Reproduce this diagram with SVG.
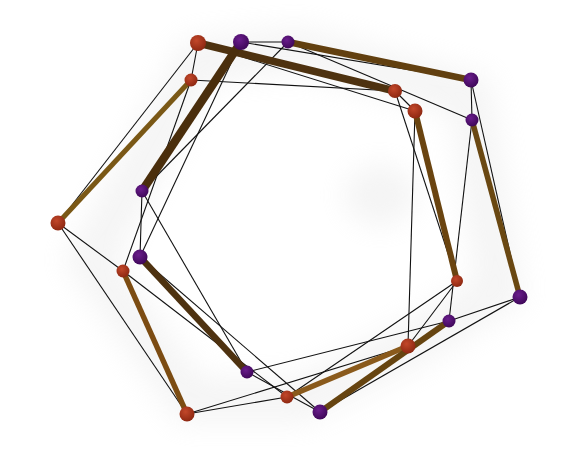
<svg xmlns="http://www.w3.org/2000/svg" width="577" height="463" viewBox="0 0 577 463">
<defs>
<radialGradient id="gr" cx="0.4" cy="0.35" r="0.7">
<stop offset="0" stop-color="#c2472a"/>
<stop offset="1" stop-color="#8a2610"/>
</radialGradient>
<radialGradient id="gp" cx="0.4" cy="0.35" r="0.7">
<stop offset="0" stop-color="#6a1d8c"/>
<stop offset="1" stop-color="#3c0656"/>
</radialGradient>
<filter id="blur" x="-20%" y="-20%" width="140%" height="140%">
<feGaussianBlur stdDeviation="14"/>
</filter>
</defs>
<style>
.thin{stroke:#111;stroke-width:1.1;fill:none}
.thick{stroke-linecap:butt;fill:none}
.red{fill:url(#gr)}
.pur{fill:url(#gp)}
</style>
<rect width="577" height="463" fill="#ffffff"/>
<g id="shadow" filter="url(#blur)" opacity="0.4">
<path d="M198,60 L300,50 L470,95 L500,290 L420,340 L300,400 L190,400 L90,260 L150,150 Z" fill="none" stroke="#e6e6e6" stroke-width="45"/>
<ellipse cx="380" cy="195" rx="35" ry="30" fill="#e4e4e4"/>
</g>
<g id="connectors">
<line class="thin" x1="198" y1="43" x2="191" y2="80"/>
<line class="thin" x1="198" y1="43" x2="58" y2="223"/>
<line class="thin" x1="198" y1="43" x2="415" y2="111"/>
<line class="thin" x1="191" y1="80" x2="395" y2="91"/>
<line class="thin" x1="191" y1="80" x2="123" y2="271"/>
<line class="thin" x1="58" y1="223" x2="123" y2="271"/>
<line class="thin" x1="58" y1="223" x2="187" y2="414"/>
<line class="thin" x1="123" y1="271" x2="287" y2="397"/>
<line class="thin" x1="187" y1="414" x2="287" y2="397"/>
<line class="thin" x1="187" y1="414" x2="408" y2="346"/>
<line class="thin" x1="287" y1="397" x2="457" y2="281"/>
<line class="thin" x1="408" y1="346" x2="457" y2="281"/>
<line class="thin" x1="408" y1="346" x2="415" y2="111"/>
<line class="thin" x1="457" y1="281" x2="395" y2="91"/>
<line class="thin" x1="415" y1="111" x2="395" y2="91"/>
<line class="thin" x1="241" y1="42" x2="288" y2="42"/>
<line class="thin" x1="241" y1="42" x2="471" y2="80"/>
<line class="thin" x1="241" y1="42" x2="140" y2="257"/>
<line class="thin" x1="288" y1="42" x2="142" y2="191"/>
<line class="thin" x1="288" y1="42" x2="472" y2="120"/>
<line class="thin" x1="471" y1="80" x2="472" y2="120"/>
<line class="thin" x1="471" y1="80" x2="520" y2="297"/>
<line class="thin" x1="472" y1="120" x2="449" y2="321"/>
<line class="thin" x1="520" y1="297" x2="449" y2="321"/>
<line class="thin" x1="520" y1="297" x2="320" y2="412"/>
<line class="thin" x1="449" y1="321" x2="247" y2="372"/>
<line class="thin" x1="320" y1="412" x2="247" y2="372"/>
<line class="thin" x1="320" y1="412" x2="140" y2="257"/>
<line class="thin" x1="247" y1="372" x2="142" y2="191"/>
<line class="thin" x1="140" y1="257" x2="142" y2="191"/>
<line class="thick" x1="198" y1="43" x2="395" y2="91" stroke="#4e3210" stroke-width="7.5"/>
<line class="thick" x1="191" y1="80" x2="58" y2="223" stroke="#7a5816" stroke-width="5"/>
<line class="thick" x1="123" y1="271" x2="187" y2="414" stroke="#7c4c12" stroke-width="5.5"/>
<line class="thick" x1="287" y1="397" x2="408" y2="346" stroke="#8a5a1c" stroke-width="5.5"/>
<line class="thick" x1="457" y1="281" x2="415" y2="111" stroke="#6a4410" stroke-width="6"/>
<line class="thick" x1="288" y1="42" x2="471" y2="80" stroke="#624010" stroke-width="6.5"/>
<line class="thick" x1="472" y1="120" x2="520" y2="297" stroke="#6a4812" stroke-width="5.5"/>
<line class="thick" x1="449" y1="321" x2="320" y2="412" stroke="#664410" stroke-width="6"/>
<line class="thick" x1="247" y1="372" x2="140" y2="257" stroke="#4e3210" stroke-width="6.5"/>
<line class="thick" x1="142" y1="191" x2="241" y2="42" stroke="#4a2e0c" stroke-width="8.5"/>
</g>
<g id="R1"><circle class="red" cx="198" cy="43" r="8"/></g>
<g id="R2"><circle class="red" cx="191" cy="80" r="6.5"/></g>
<g id="R3"><circle class="red" cx="58" cy="223" r="7.5"/></g>
<g id="R4"><circle class="red" cx="123" cy="271" r="6.5"/></g>
<g id="R5"><circle class="red" cx="187" cy="414" r="7.5"/></g>
<g id="R6"><circle class="red" cx="287" cy="397" r="6.5"/></g>
<g id="R7"><circle class="red" cx="408" cy="346" r="7.5"/></g>
<g id="R8"><circle class="red" cx="457" cy="281" r="6"/></g>
<g id="R9"><circle class="red" cx="415" cy="111" r="7.5"/></g>
<g id="R10"><circle class="red" cx="395" cy="91" r="7"/></g>
<g id="P1"><circle class="pur" cx="241" cy="42" r="8"/></g>
<g id="P2"><circle class="pur" cx="288" cy="42" r="6.5"/></g>
<g id="P3"><circle class="pur" cx="471" cy="80" r="7.5"/></g>
<g id="P4"><circle class="pur" cx="472" cy="120" r="6.5"/></g>
<g id="P5"><circle class="pur" cx="520" cy="297" r="7.5"/></g>
<g id="P6"><circle class="pur" cx="449" cy="321" r="6.5"/></g>
<g id="P7"><circle class="pur" cx="320" cy="412" r="7.5"/></g>
<g id="P8"><circle class="pur" cx="247" cy="372" r="6.5"/></g>
<g id="P9"><circle class="pur" cx="140" cy="257" r="7.5"/></g>
<g id="P10"><circle class="pur" cx="142" cy="191" r="6.5"/></g>
</svg>
